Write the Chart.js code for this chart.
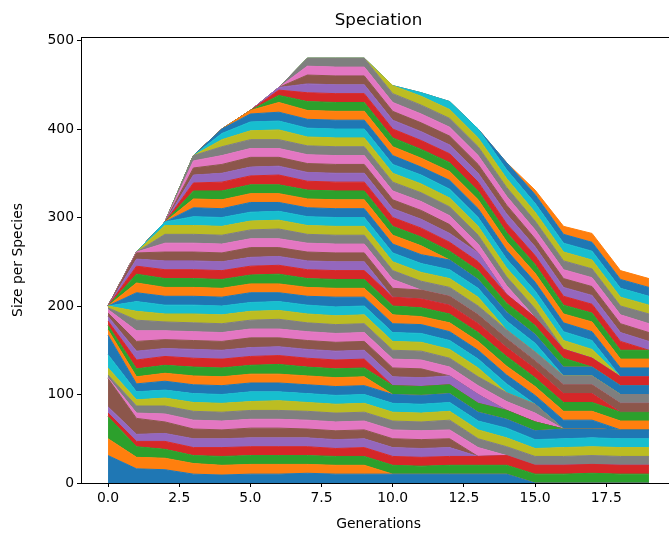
<!DOCTYPE html>
<html>
<head>
<meta charset="utf-8">
<title>Speciation</title>
<script src="https://cdn.jsdelivr.net/npm/chart.js@4.4.0/dist/chart.umd.min.js"></script>
<style>
  html, body { margin: 0; padding: 0; background: #fff; }
  /* the figure is wider than the view; its right edge is cut off */
  #wrap { width: 669px; height: 540px; overflow: hidden; }
</style>
</head>
<body>
<div id="wrap"><canvas id="speciationChart" width="690" height="540"></canvas></div>
<script>
// generations on the x axis
const generations = [0, 1, 2, 3, 4, 5, 6, 7, 8, 9, 10, 11, 12, 13, 14, 15, 16, 17, 18, 19];
const xTicks = [0, 2.5, 5, 7.5, 10, 12.5, 15, 17.5];
const yTicks = [0, 100, 200, 300, 400, 500];

// species that exist from generation 0 (one row per species, one value per generation)
const foundingSpecies = [
    [31, 16, 15, 10, 9, 10, 10, 11, 10, 10, 10, 10, 10, 10, 10, 0, 0, 0, 0, 0],
    [19, 13, 13, 12, 11, 11, 11, 10, 10, 10, 0, 0, 0, 0, 0, 0, 0, 0, 0, 0],
    [25, 12, 10, 9, 10, 10, 10, 10, 10, 10, 10, 9, 10, 10, 10, 10, 10, 11, 10, 10],
    [4, 6, 9, 9, 10, 10, 10, 10, 9, 10, 10, 10, 10, 10, 11, 10, 10, 10, 10, 10],
    [7, 8, 9, 10, 10, 10, 10, 10, 10, 10, 10, 10, 10, 0, 0, 0, 0, 0, 0, 0],
    [32, 18, 13, 11, 10, 11, 11, 10, 10, 10, 10, 10, 10, 0, 0, 0, 0, 0, 0, 0],
    [1, 6, 9, 10, 10, 10, 10, 10, 10, 10, 10, 10, 10, 10, 0, 0, 0, 0, 0, 0],
    [3, 8, 9, 10, 10, 10, 10, 10, 10, 10, 10, 10, 11, 10, 10, 10, 10, 10, 10, 10],
    [8, 7, 9, 10, 10, 10, 11, 10, 10, 10, 10, 10, 10, 10, 10, 9, 10, 10, 10, 10],
    [15, 9, 9, 10, 10, 11, 10, 10, 10, 10, 10, 10, 10, 10, 11, 10, 10, 10, 10, 10],
    [22, 9, 10, 10, 10, 10, 10, 10, 10, 10, 10, 10, 10, 10, 10, 10, 11, 10, 10, 10],
    [6, 8, 9, 10, 10, 10, 10, 10, 10, 10, 0, 0, 0, 0, 0, 0, 0, 0, 0, 0],
    [5, 9, 9, 10, 10, 10, 11, 10, 10, 10, 10, 10, 10, 10, 10, 10, 0, 0, 0, 0],
    [5, 10, 10, 10, 10, 10, 10, 10, 10, 10, 0, 0, 0, 0, 0, 0, 0, 0, 0, 0],
    [5, 10, 9, 10, 10, 10, 10, 10, 10, 10, 10, 10, 10, 10, 0, 0, 0, 0, 0, 0],
    [4, 11, 10, 10, 10, 11, 10, 10, 10, 10, 10, 10, 0, 0, 0, 0, 0, 0, 0, 0],
    [4, 12, 10, 10, 10, 10, 10, 10, 10, 10, 10, 10, 10, 10, 10, 10, 0, 0, 0, 0],
    [2, 12, 10, 10, 10, 10, 11, 10, 10, 10, 10, 10, 10, 10, 10, 10, 0, 0, 0, 0],
    [2, 10, 9, 10, 10, 10, 10, 10, 10, 10, 10, 10, 10, 10, 0, 0, 0, 0, 0, 0]
];

// species that appear in generations 1-2
const earlySpecies = [
    [0, 11, 10, 10, 10, 10, 10, 10, 10, 10, 10, 10, 10, 10, 10, 0, 0, 0, 0, 0],
    [0, 10, 10, 10, 10, 11, 10, 10, 11, 10, 10, 10, 10, 10, 10, 10, 10, 10, 0, 0],
    [0, 11, 10, 10, 10, 10, 10, 10, 10, 10, 10, 9, 10, 10, 10, 10, 10, 10, 10, 10],
    [0, 10, 10, 10, 10, 10, 11, 10, 10, 10, 10, 10, 10, 10, 11, 10, 10, 10, 10, 10],
    [0, 9, 10, 10, 10, 10, 10, 10, 10, 10, 10, 10, 10, 10, 10, 10, 10, 10, 0, 0],
    [0, 8, 10, 10, 10, 10, 10, 10, 10, 10, 0, 0, 0, 0, 0, 0, 0, 0, 0, 0],
    [0, 7, 10, 10, 10, 11, 10, 10, 10, 10, 10, 10, 10, 10, 10, 9, 10, 10, 10, 10],
    [0, 1, 10, 10, 10, 10, 10, 10, 10, 10, 10, 0, 0, 0, 0, 0, 0, 0, 0, 0],
    [0, 0, 10, 10, 10, 10, 11, 10, 10, 10, 10, 10, 10, 10, 10, 10, 10, 10, 10, 10],
    [0, 0, 10, 10, 10, 10, 10, 10, 10, 10, 10, 10, 10, 10, 0, 0, 0, 0, 0, 0],
    [0, 0, 4, 10, 10, 10, 10, 10, 10, 10, 10, 10, 10, 10, 10, 10, 0, 0, 0, 0]
];

// species that appear in generations 3-7
const midSpecies = [
    [0, 0, 0, 10, 10, 11, 10, 10, 10, 10, 10, 10, 11, 10, 10, 10, 10, 10, 10, 10],
    [0, 0, 0, 10, 10, 10, 10, 10, 10, 10, 10, 10, 0, 0, 0, 0, 0, 0, 0, 0],
    [0, 0, 0, 9, 10, 10, 10, 10, 10, 10, 10, 10, 10, 10, 10, 10, 10, 0, 0, 0],
    [0, 0, 0, 9, 10, 10, 11, 10, 10, 10, 10, 10, 10, 10, 10, 9, 10, 10, 10, 10],
    [0, 0, 0, 9, 10, 10, 10, 10, 10, 10, 10, 10, 10, 10, 0, 0, 0, 0, 0, 0],
    [0, 0, 0, 8, 10, 11, 10, 10, 10, 10, 10, 10, 10, 0, 0, 0, 0, 0, 0, 0],
    [0, 0, 0, 8, 10, 10, 10, 10, 10, 10, 10, 10, 10, 10, 10, 0, 0, 0, 0, 0],
    [0, 0, 0, 6, 10, 10, 10, 10, 10, 10, 10, 10, 10, 10, 10, 10, 0, 0, 0, 0],
    [0, 0, 0, 0, 8, 10, 11, 10, 10, 10, 10, 10, 10, 10, 10, 10, 10, 10, 0, 0],
    [0, 0, 0, 0, 7, 10, 10, 10, 10, 10, 10, 10, 10, 10, 10, 10, 10, 10, 0, 0],
    [0, 0, 0, 0, 5, 9, 10, 10, 10, 10, 10, 9, 10, 10, 10, 10, 10, 10, 10, 10],
    [0, 0, 0, 0, 0, 4, 11, 10, 10, 10, 10, 10, 10, 10, 10, 10, 10, 11, 10, 10],
    [0, 0, 0, 0, 0, 0, 8, 10, 10, 10, 10, 10, 10, 10, 10, 10, 10, 10, 10, 10],
    [0, 0, 0, 0, 0, 0, 6, 10, 10, 10, 10, 10, 10, 10, 10, 10, 10, 10, 10, 0],
    [0, 0, 0, 0, 0, 0, 3, 10, 10, 10, 10, 10, 10, 10, 11, 10, 10, 10, 10, 10],
    [0, 0, 0, 0, 0, 0, 0, 10, 10, 10, 10, 10, 10, 10, 10, 9, 10, 10, 10, 10],
    [0, 0, 0, 0, 0, 0, 0, 10, 10, 10, 10, 10, 10, 10, 10, 10, 10, 10, 10, 10],
    [0, 0, 0, 0, 0, 0, 0, 9, 10, 10, 10, 10, 10, 10, 10, 10, 10, 10, 10, 11]
];

// species that appear after generation 9
const lateSpecies = [
    [0, 0, 0, 0, 0, 0, 0, 0, 0, 0, 9, 10, 10, 10, 10, 10, 10, 10, 10, 10],
    [0, 0, 0, 0, 0, 0, 0, 0, 0, 0, 0, 4, 9, 10, 10, 10, 10, 10, 10, 10],
    [0, 0, 0, 0, 0, 0, 0, 0, 0, 0, 0, 0, 0, 0, 8, 10, 10, 10, 10, 10],
    [0, 0, 0, 0, 0, 0, 0, 0, 0, 0, 0, 0, 0, 0, 0, 5, 9, 10, 10, 10]
];

const speciesSizes = [...foundingSpecies, ...earlySpecies, ...midSpecies, ...lateSpecies];

// matplotlib default colour cycle
const tab10 = ['#1f77b4', '#ff7f0e', '#2ca02c', '#d62728', '#9467bd',
               '#8c564b', '#e377c2', '#7f7f7f', '#bcbd22', '#17becf'];

const FONT = '"DejaVu Sans", "Liberation Sans", sans-serif';

// each species becomes one stacked band
const datasets = speciesSizes.map((sizes, i) => ({
    label: 'species ' + (i + 1),
    data: generations.map((g, j) => ({ x: g, y: sizes[j] })),
    backgroundColor: tab10[i % 10],
    borderColor: tab10[i % 10],
    borderWidth: 1,
    pointRadius: 0,
    tension: 0,
    fill: i === 0 ? 'origin' : '-1'
}));

// box around the plot and the title above it
const frameAndTitle = {
    id: 'frameAndTitle',
    afterDraw(chart) {
        const { ctx, chartArea } = chart;
        ctx.save();
        ctx.strokeStyle = '#000';
        ctx.lineWidth = 1;
        ctx.strokeRect(chartArea.left + 0.5, chartArea.top + 0.5,
            chartArea.right - chartArea.left - 1, chartArea.bottom - chartArea.top);
        ctx.fillStyle = '#000';
        ctx.font = '16.7px ' + FONT;
        ctx.textAlign = 'center';
        ctx.textBaseline = 'alphabetic';
        ctx.fillText('Speciation', (chartArea.left + chartArea.right) / 2, 25);
        ctx.restore();
    }
};

const tickFont = { family: FONT, size: 13.9 };

new Chart(document.getElementById('speciationChart'), {
    type: 'line',
    data: { datasets },
    plugins: [frameAndTitle],
    options: {
        responsive: false,
        animation: false,
        devicePixelRatio: 1,
        layout: { padding: { top: 37, right: 14, left: 0, bottom: 0 } },
        plugins: {
            legend: { display: false },
            tooltip: { enabled: false },
            title: { display: false }
        },
        scales: {
            x: {
                type: 'linear',
                min: -0.95,
                max: 19.95,
                afterBuildTicks: (scale) => { scale.ticks = xTicks.map(v => ({ value: v })); },
                afterFit: (scale) => { scale.height = 57; },
                ticks: {
                    color: '#000',
                    font: tickFont,
                    padding: 3,
                    maxRotation: 0,
                    callback: (v) => v.toFixed(1)
                },
                grid: { drawOnChartArea: false, drawTicks: true, tickLength: 4, color: '#000' },
                border: { display: false },
                title: {
                    display: true,
                    text: 'Generations',
                    color: '#000',
                    font: tickFont,
                    padding: { top: 0, bottom: 7 }
                }
            },
            y: {
                stacked: true,
                min: 0,
                max: 504,
                afterBuildTicks: (scale) => { scale.ticks = yTicks.map(v => ({ value: v })); },
                afterFit: (scale) => { scale.width = 81; },
                ticks: {
                    color: '#000',
                    font: tickFont,
                    padding: 3,
                    callback: (v) => String(v)
                },
                grid: { drawOnChartArea: false, drawTicks: true, tickLength: 4, color: '#000' },
                border: { display: false },
                title: {
                    display: true,
                    text: 'Size per Species',
                    color: '#000',
                    font: tickFont,
                    padding: { top: 10, bottom: 0 }
                }
            }
        }
    }
});
</script>
</body>
</html>
